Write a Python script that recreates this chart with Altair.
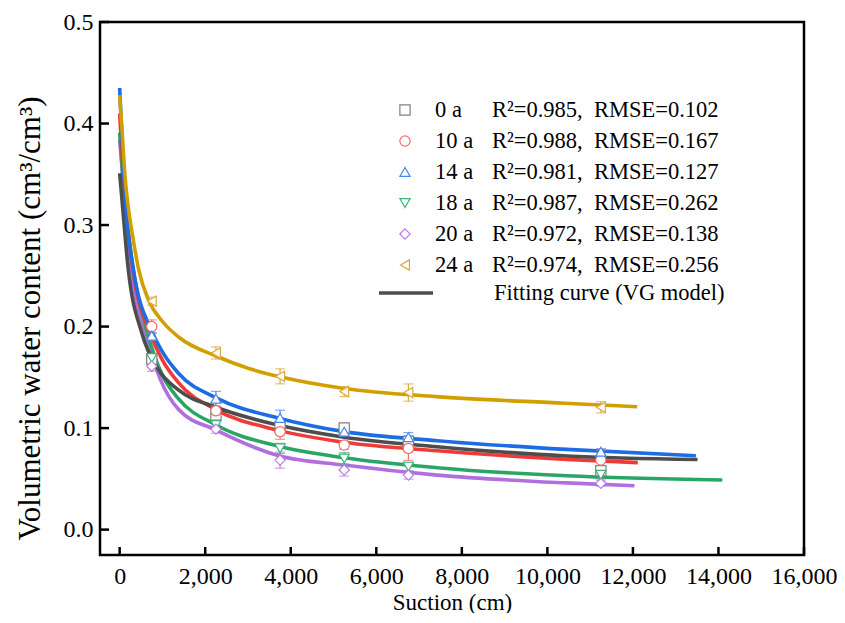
import altair as alt
import pandas as pd

# ---------------- data ----------------
series = ["0 a", "10 a", "14 a", "18 a", "20 a", "24 a"]
r2_vals = ["0.985", "0.988", "0.981", "0.987", "0.972", "0.974"]
rmse_vals = ["0.102", "0.167", "0.127", "0.262", "0.138", "0.256"]
shapes = ["square", "circle", "triangle-up", "triangle-down", "diamond", "triangle-left"]
marker_colors = ["#808080", "#f26b6b", "#4a86e8", "#3db37a", "#b77fe0", "#d9aa3a"]
line_colors = ["#4d4d4d", "#ef3a3a", "#1c6ce3", "#2aa566", "#b06ee0", "#d29f00"]

suction = [750, 2250, 3750, 5250, 6750, 11250]
theta_0 = [0.168, 0.113, 0.101, 0.100, 0.087, 0.058]
theta_10 = [0.200, 0.117, 0.0965, 0.0833, 0.080, 0.0685]
theta_14 = [0.191, 0.129, 0.110, 0.0965, 0.091, 0.0767]
theta_18 = [0.169, 0.103, 0.080, 0.070, 0.062, 0.054]
theta_20 = [0.161, 0.099, 0.0685, 0.0587, 0.0537, 0.0456]
theta_24 = [0.225, 0.174, 0.151, 0.136, 0.135, 0.1205]
err_0 = [0.004, 0.006, 0.005, 0.0043, 0.005, 0.004]
err_10 = [0.0066, 0.004, 0.0076, 0.004, 0.012, 0.0099]
err_14 = [0.003, 0.0072, 0.0076, 0.004, 0.0046, 0.003]
err_18 = [0.004, 0.004, 0.005, 0.006, 0.004, 0.004]
err_20 = [0.005, 0.004, 0.008, 0.006, 0.004, 0.003]
err_24 = [0.004, 0.006, 0.0074, 0.005, 0.0085, 0.0056]

# fitted VG curves
fit_x_0 = [0, 54, 194, 519, 900, 1373, 2257, 3700, 5250, 7420, 10447, 13510]
fit_y_0 = [0.351, 0.325, 0.259, 0.1935, 0.158, 0.1376, 0.1205, 0.103, 0.091, 0.0817, 0.0725, 0.069]
fit_x_10 = [0, 125, 300, 714, 1000, 1373, 2257, 3700, 5250, 7420, 10447, 12114]
fit_y_10 = [0.41, 0.325, 0.259, 0.1935, 0.167, 0.1448, 0.118, 0.098, 0.086, 0.0777, 0.0692, 0.066]
fit_x_14 = [0, 130, 309, 775, 1000, 1373, 2257, 3700, 5250, 7420, 10447, 13472]
fit_y_14 = [0.435, 0.325, 0.259, 0.1935, 0.175, 0.154, 0.1297, 0.110, 0.0965, 0.0876, 0.079, 0.0728]
fit_x_18 = [0, 120, 309, 651, 1000, 1373, 2257, 3700, 5250, 7420, 10447, 14090]
fit_y_18 = [0.391, 0.325, 0.259, 0.1935, 0.152, 0.129, 0.103, 0.0823, 0.0708, 0.061, 0.053, 0.0488]
fit_x_20 = [0, 116, 263, 597, 950, 1373, 2257, 3700, 5250, 7420, 10447, 12036]
fit_y_20 = [0.384, 0.325, 0.259, 0.1935, 0.148, 0.1185, 0.098, 0.073, 0.0636, 0.0537, 0.046, 0.0432]
fit_x_24 = [0, 60, 130, 200, 300, 450, 675, 1000, 1400, 2250, 3000, 3700, 5250, 7400, 10400, 12100]
fit_y_24 = [0.428, 0.39, 0.345, 0.318, 0.29, 0.255, 0.226, 0.205, 0.189, 0.171, 0.159, 0.151, 0.139, 0.131, 0.1245, 0.121]

x_ticks = [0, 2000, 4000, 6000, 8000, 10000, 12000, 14000, 16000]
y_ticks = [0.0, 0.1, 0.2, 0.3, 0.4, 0.5]

fit_label = "Fitting curve (VG model)"
x_title = "Suction (cm)"
y_title = "Volumetric water content (cm³/cm³)"

# ---------------- tables ----------------
thetas = [theta_0, theta_10, theta_14, theta_18, theta_20, theta_24]
errs = [err_0, err_10, err_14, err_18, err_20, err_24]
fits = [(fit_x_0, fit_y_0), (fit_x_10, fit_y_10), (fit_x_14, fit_y_14),
        (fit_x_18, fit_y_18), (fit_x_20, fit_y_20), (fit_x_24, fit_y_24)]

rows = []
for s, th, er in zip(series, thetas, errs):
    for x, t, e in zip(suction, th, er):
        rows.append({"series": s, "suction": x, "theta": t, "lo": t - e, "hi": t + e})
pts = pd.DataFrame(rows)

FONT = "Liberation Serif"
W, H = 704, 533
NB = "\u00a0"
LEG_FS = 22.5

xs = alt.Scale(domain=[-460, 16000], nice=False, zero=False)
ys = alt.Scale(domain=[-0.025, 0.5], nice=False, zero=False)
mcol = alt.Scale(domain=series, range=marker_colors)
mshape = alt.Scale(domain=series, range=shapes)

x_axis = alt.Axis(values=x_ticks, format=",d", title=x_title, grid=False, labelOverlap=False,
                  labelFlush=False, labelBound=False, domain=False, ticks=False,
                  labelPadding=9, titlePadding=3,
                  labelFontSize=24, titleFontSize=23)
y_axis = alt.Axis(values=y_ticks, format=".1f", title=y_title, grid=False, labelOverlap=False,
                  labelFlush=False, domain=False, ticks=False, labelPadding=7,
                  labelFontSize=24, titleFontSize=31,
                  titleX=-70, titleY=296, titleBaseline="middle", titleAngle=270)


def X(field):
    return alt.X(f"{field}:Q", scale=xs, axis=x_axis, title=x_title)


def Y(field):
    return alt.Y(f"{field}:Q", scale=ys, axis=y_axis, title=y_title)


# fitted curves (drawn in order so the stacking matches)
draw_order = [4, 3, 1, 0, 2, 5]
line_layers = []
for i in draw_order:
    fx, fy = fits[i]
    df = pd.DataFrame({"suction": fx, "theta": fy})
    line_layers.append(
        alt.Chart(df).mark_line(interpolate="monotone", strokeWidth=3.6,
                                color=line_colors[i], strokeCap="butt")
        .encode(x=X("suction"), y=Y("theta"))
    )

errbars = alt.Chart(pts).mark_rule(strokeWidth=1.2).encode(
    x=X("suction"), y=Y("lo"), y2="hi:Q",
    color=alt.Color("series:N", scale=mcol, legend=None),
)
cap_lo = alt.Chart(pts).mark_tick(orient="horizontal", size=10, thickness=1.2).encode(
    x=X("suction"), y=Y("lo"),
    color=alt.Color("series:N", scale=mcol, legend=None),
)
cap_hi = alt.Chart(pts).mark_tick(orient="horizontal", size=10, thickness=1.2).encode(
    x=X("suction"), y=Y("hi"),
    color=alt.Color("series:N", scale=mcol, legend=None),
)
points = alt.Chart(pts).mark_point(filled=False, fill="white", fillOpacity=1,
                                   strokeWidth=1.2, size=105, opacity=1).encode(
    x=X("suction"), y=Y("theta"),
    stroke=alt.Stroke("series:N", scale=mcol, legend=None),
    shape=alt.Shape("series:N", scale=mshape, legend=None),
)

# inward ticks
xt = pd.DataFrame({"suction": x_ticks})
yt = pd.DataFrame({"theta": y_ticks})
xtick_layer = alt.Chart(xt).mark_rule(color="black", strokeWidth=2.5).encode(
    x=X("suction"), y=alt.value(H), y2=alt.value(H - 8),
)
ytick_layer = alt.Chart(yt).mark_rule(color="black", strokeWidth=2.5).encode(
    y=Y("theta"), x=alt.value(0), x2=alt.value(9),
)

main = alt.layer(*line_layers, errbars, cap_lo, cap_hi, points, xtick_layer, ytick_layer)

# ---------------- custom legend ----------------
leg = pd.DataFrame({
    "series": series,
    "stats": [f"R²={a},{NB}{NB}RMSE={b}" for a, b in zip(r2_vals, rmse_vals)],
})
ly = alt.Y("series:N", scale=alt.Scale(type="point", domain=series, range=[88, 243], padding=0),
           axis=None)
leg_sym = alt.Chart(leg).mark_point(filled=False, fill="white", strokeWidth=1.2, size=105, opacity=1).encode(
    x=alt.value(305), y=ly,
    stroke=alt.Stroke("series:N", scale=mcol, legend=None),
    shape=alt.Shape("series:N", scale=mshape, legend=None),
)
leg_name = alt.Chart(leg).mark_text(align="left", baseline="middle", font=FONT, fontSize=LEG_FS,
                                    color="black").encode(
    x=alt.value(335), y=ly, text="series:N")
leg_stats = alt.Chart(leg).mark_text(align="left", baseline="middle", font=FONT, fontSize=LEG_FS,
                                     color="black").encode(
    x=alt.value(392), y=ly, text="stats:N")
legend = alt.layer(leg_sym, leg_name, leg_stats)

fit_df = pd.DataFrame({"label": [fit_label]})
fit_line = alt.Chart(fit_df).mark_rule(color="#4d4d4d", strokeWidth=3.6).encode(
    x=alt.value(279), x2=alt.value(333), y=alt.value(271))
fit_text = alt.Chart(fit_df).mark_text(align="left", baseline="middle", font=FONT, fontSize=LEG_FS,
                                       color="black").encode(
    x=alt.value(394), y=alt.value(271), text="label:N")

chart = alt.layer(main, legend, fit_line, fit_text).resolve_scale(
    y="independent", shape="independent", stroke="independent"
).properties(
    width=W, height=H,
    autosize=alt.AutoSizeParams(type="none"),
    padding={"left": 92, "top": 14, "right": 33, "bottom": 58},
).configure_view(
    stroke="black", strokeWidth=2.5
).configure_axis(
    labelFont=FONT, titleFont=FONT,
    labelColor="black", titleColor="black", titleFontWeight="normal"
)

chart.save("out.html", embed_options={"renderer": "svg", "actions": False})
